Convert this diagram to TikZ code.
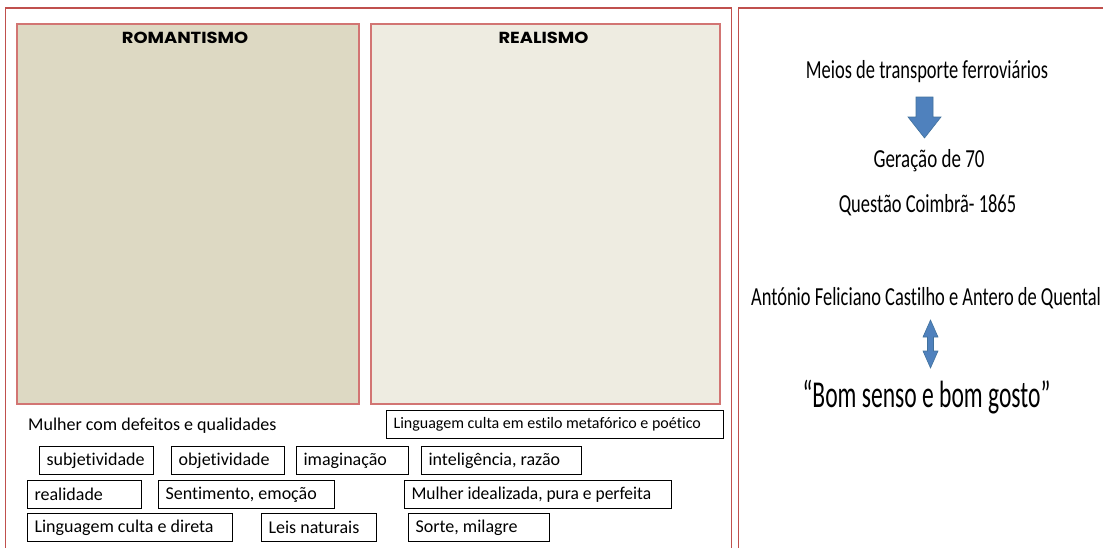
\documentclass[tikz,border=0pt]{standalone}
\usepackage{fontspec}
\setmainfont{Carlito}[Ligatures=NoCommon]
\newfontfamily\hdrfont{Poppins}[UprightFont=* Bold]
\definecolor{framered}{HTML}{C0504D}
\definecolor{boxred}{HTML}{D27573}
\definecolor{romfill}{HTML}{DDD9C3}
\definecolor{realfill}{HTML}{EEECE1}
\definecolor{arrowblue}{HTML}{4F81BD}
\definecolor{arrowedge}{HTML}{41719C}
\newcommand\rtext[2]{\scalebox{#1}[1]{#2}}
\tikzset{
  frame/.style={draw=framered, line width=1.8pt},
  panel/.style={draw=boxred, line width=1.6pt, anchor=north west, inner sep=0pt},
  hdr/.style={font=\hdrfont\fontsize{16}{18}\selectfont, anchor=base, inner sep=0pt},
  wbox/.style={draw=black, line width=1.1pt, fill=white, anchor=north west, minimum height=28pt,
     inner xsep=7pt, inner ysep=0pt, font=\fontsize{18}{20}\selectfont},
  rtxt/.style={anchor=base, inner sep=0pt, font=\fontsize{26}{30}\selectfont},
}
\newcommand\wb[6]{\node[wbox] (#1) at (#2,#3) {\makebox[#5pt][l]{#6}};}
\begin{document}
\begin{tikzpicture}[x=1pt,y=-1pt]
\useasboundingbox (0,0) rectangle (1103,547);
% frames
\draw[frame] (5.5,555) -- (5.5,8) -- (731.5,8) -- (731.5,555);
\draw[frame] (738.5,555) -- (738.5,8) -- (1110,8);
% panels
\node[panel, fill=romfill, minimum width=342pt, minimum height=380pt] (rom) at (16,23) {};
\node[panel, fill=realfill, minimum width=349pt, minimum height=380pt] (rea) at (370,23) {};
\node[hdr] (romh) at (185,43) {\rtext{1.12}{ROMANTISMO}};
\node[hdr] (reah) at (543.5,43) {\rtext{1.12}{REALISMO}};
% words
\node[anchor=base west, inner sep=0pt, font=\fontsize{18}{20}\selectfont] (mulher) at (28,430) {Mulher com defeitos e qualidades};
\node[wbox, font=\fontsize{16}{18}\selectfont] (lingmet) at (386,410) {\makebox[323pt][l]{Linguagem culta em estilo metafórico e poético}};
\wb{subj}{39}{446}{114}{100}{subjetividade}
\wb{obj}{171}{446}{113}{99}{objetividade}
\wb{imag}{296}{446}{112}{98}{imaginação}
\wb{intel}{421}{446}{160}{146}{inteligência, razão}
\wb{real}{27}{480}{114}{100}{realidade}
\wb{sent}{158}{480}{176}{162}{Sentimento, emoção}
\wb{mulid}{404}{480}{267}{253}{\rtext{0.97}{Mulher idealizada, pura e perfeita}}
\wb{lingdir}{27}{513}{205}{191}{Linguagem culta e direta}
\wb{leis}{261}{513}{115}{101}{Leis naturais}
\wb{sorte}{408}{513}{141}{127}{Sorte, milagre}
% right panel
\node[rtxt] (meios) at (927,78) {\rtext{0.71}{Meios de transporte ferroviários}};
\node[rtxt] (gera) at (929,167) {\rtext{0.73}{Geração de 70}};
\node[rtxt] (quest) at (927.5,212) {\rtext{0.71}{Questão Coimbrã- 1865}};
\node[rtxt] (anto) at (926,305) {\rtext{0.71}{António Feliciano Castilho e Antero de Quental}};
\node[rtxt, font=\fontsize{38}{44}\selectfont] (bom) at (926.5,407) {\rtext{0.62}{“Bom senso e bom gosto”}};
% arrows
\draw[fill=arrowblue, draw=arrowedge, line width=0.6pt]
  (916,97) -- (933,97) -- (933,117) -- (941,117) -- (924.5,138) -- (908,117) -- (916,117) -- cycle;
\draw[fill=arrowblue, draw=arrowedge, line width=0.6pt]
  (930.5,320) -- (938,337) -- (933.5,337) -- (933.5,351) -- (938,351) -- (930.5,368)
  -- (923,351) -- (927.5,351) -- (927.5,337) -- (923,337) -- cycle;
\end{tikzpicture}
\end{document}
